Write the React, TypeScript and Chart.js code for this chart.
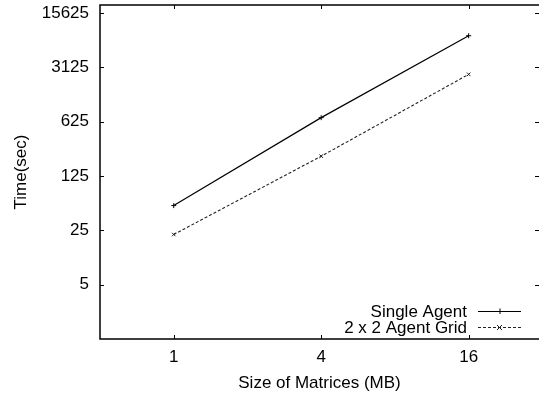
import React, { useEffect, useRef } from "react";
import { Chart, registerables } from "chart.js";

Chart.register(...registerables);

const sizes = [1, 4, 16];
const singleAgent = [52, 704, 7966];
const agentGrid = [22.1, 224.5, 2538];
const yTicks = [5, 25, 125, 625, 3125, 15625];
const xTicks = [1, 4, 16];
const seriesLabels = ["Single Agent", "2 x 2 Agent Grid"];
const xTitle = "Size of Matrices (MB)";
const yTitle = "Time(sec)";

const FONT = "'Liberation Sans', Arial, Helvetica, sans-serif";

const framePlugin = {
  id: "gnuFrame",
  afterDatasetsDraw(chart: any) {
    const { ctx, chartArea, scales } = chart;
    const { left, right, top, bottom } = chartArea;
    const tl = 4;
    ctx.save();
    ctx.strokeStyle = "#000";
    ctx.lineWidth = 1.5;
    ctx.beginPath();
    ctx.moveTo(right, top);
    ctx.lineTo(left, top);
    ctx.lineTo(left, bottom);
    ctx.lineTo(right, bottom);
    ctx.stroke();
    ctx.lineWidth = 1;
    ctx.beginPath();
    for (const v of xTicks) {
      const x = Math.round(scales.x.getPixelForValue(v)) + 0.5;
      ctx.moveTo(x, bottom);
      ctx.lineTo(x, bottom - tl);
      ctx.moveTo(x, top);
      ctx.lineTo(x, top + tl);
    }
    for (const v of yTicks) {
      const y = Math.round(scales.y.getPixelForValue(v)) + 0.5;
      ctx.moveTo(left, y);
      ctx.lineTo(left + tl, y);
      ctx.moveTo(right, y);
      ctx.lineTo(right - tl, y);
    }
    ctx.stroke();

    // gnuplot-style key at bottom right
    const textRight = 467;
    const sx0 = 478;
    const sx1 = 521;
    const rows = [311, 327];
    ctx.font = `17px ${FONT}`;
    ctx.fillStyle = "#000";
    ctx.textAlign = "right";
    ctx.textBaseline = "middle";
    const ds = chart.data.datasets;
    rows.forEach((y, i) => {
      ctx.fillText(seriesLabels[i], textRight, y + 1);
      ctx.save();
      ctx.strokeStyle = ds[i].borderColor;
      ctx.lineWidth = 1;
      ctx.setLineDash(ds[i].borderDash || []);
      ctx.beginPath();
      ctx.moveTo(sx0, y + 0.5);
      ctx.lineTo(sx1, y + 0.5);
      ctx.stroke();
      ctx.setLineDash([]);
      const cx = (sx0 + sx1) / 2;
      ctx.beginPath();
      if (i === 0) {
        ctx.moveTo(cx - 2.5, y + 0.5);
        ctx.lineTo(cx + 2.5, y + 0.5);
        ctx.moveTo(cx + 0.5, y - 2.5);
        ctx.lineTo(cx + 0.5, y + 3);
      } else {
        ctx.moveTo(cx - 2.5, y - 2);
        ctx.lineTo(cx + 2.5, y + 3);
        ctx.moveTo(cx + 2.5, y - 2);
        ctx.lineTo(cx - 2.5, y + 3);
      }
      ctx.stroke();
      ctx.restore();
    });
    ctx.restore();
  },
};

export default function App() {
  const ref = useRef<HTMLCanvasElement | null>(null);
  useEffect(() => {
    if (!ref.current) return;
    const chart = new Chart(ref.current, {
      type: "line",
      data: {
        datasets: [
          {
            label: seriesLabels[0],
            data: sizes.map((s, i) => ({ x: s, y: singleAgent[i] })),
            borderColor: "#000",
            backgroundColor: "#000",
            borderWidth: 1.2,
            pointStyle: "cross",
            pointRadius: 2.5,
            pointBorderWidth: 1,
            fill: false,
            tension: 0,
          },
          {
            label: seriesLabels[1],
            data: sizes.map((s, i) => ({ x: s, y: agentGrid[i] })),
            borderColor: "#222",
            backgroundColor: "#222",
            borderWidth: 1.1,
            borderDash: [3, 2],
            pointStyle: "crossRot",
            pointRadius: 2.5,
            pointBorderWidth: 1,
            fill: false,
            tension: 0,
          },
        ],
      },
      options: {
        animation: false,
        responsive: false,
        layout: { autoPadding: false, padding: { left: 0, right: 0, top: 5, bottom: 0 } },
        plugins: { legend: { display: false }, tooltip: { enabled: false } },
        scales: {
          x: {
            type: "logarithmic",
            min: 0.5,
            max: 31,
            grid: { display: false, drawTicks: false },
            border: { display: false },
            ticks: {
              color: "#000",
              font: { family: FONT, size: 17 },
              padding: 8,
              maxRotation: 0,
              callback: (v: any) => String(v),
            },
            afterBuildTicks: (s: any) => {
              s.ticks = xTicks.map((v) => ({ value: v }));
            },
            afterFit: (s: any) => {
              s.height = 58;
              s.paddingLeft = 0;
              s.paddingRight = 0;
            },
            title: {
              display: true,
              text: xTitle,
              color: "#000",
              font: { family: FONT, size: 17 },
              padding: { top: 3, bottom: 3 },
            },
          },
          y: {
            type: "logarithmic",
            min: 1,
            max: 19800,
            grid: { display: false, drawTicks: false },
            border: { display: false },
            ticks: {
              color: "#000",
              font: { family: FONT, size: 17 },
              padding: 11,
              callback: (v: any) => String(v),
            },
            afterBuildTicks: (s: any) => {
              s.ticks = yTicks.map((v) => ({ value: v }));
            },
            afterFit: (s: any) => {
              s.width = 100;
              s.paddingTop = 0;
              s.paddingBottom = 0;
            },
            title: {
              display: true,
              text: yTitle,
              color: "#000",
              font: { family: FONT, size: 17 },
              padding: { top: 10.8, bottom: 10.8 },
            },
          },
        },
      },
      plugins: [framePlugin],
    } as any);
    return () => chart.destroy();
  }, []);
  return (
    <div style={{ position: "absolute", left: 0, top: 0, width: 539, height: 397, background: "#fff" }}>
      <canvas ref={ref} width={539} height={397} style={{ display: "block" }} />
    </div>
  );
}
